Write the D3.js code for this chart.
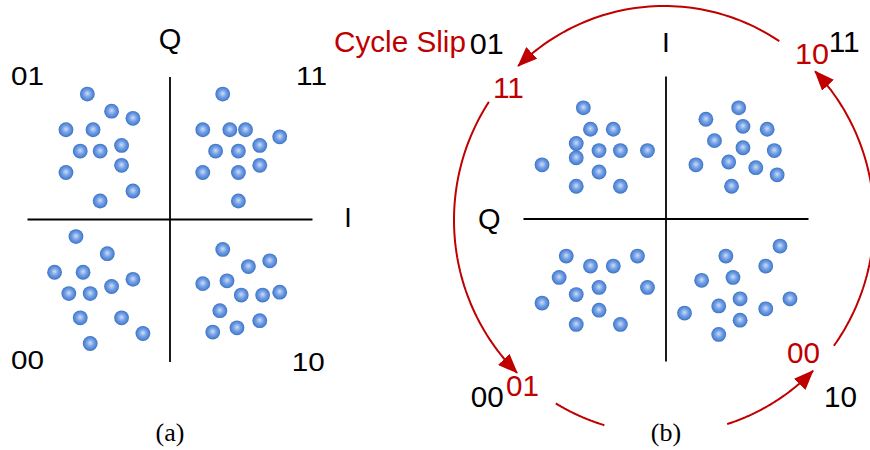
<!DOCTYPE html>
<html><head><meta charset="utf-8">
<script src="https://cdn.jsdelivr.net/npm/d3@7"></script>
<style>body{margin:0;background:#fff}svg{display:block}</style>
</head><body>
<script>
// ---- data (units: axis half-length = 100) ----
const pointsA_01 = [[-58,88],[-41,76],[-26,71],[-73,63],[-54,63],[-34,52],[-63,48],[-49,48],[-34,38],[-73,33],[-26,20],[-49,13]];
const pointsA_11 = [[37,88],[23,63],[42,63],[53,63],[77,58],[63,52],[32,48],[48,48],[63,38],[23,33],[48,33],[48,13]];
const pointsA_00 = [[-66,-12],[-44,-24],[-81,-37],[-61,-37],[-26,-42],[-71,-52],[-56,-52],[-41,-47],[-63,-69],[-34,-69],[-19,-80],[-56,-87]];
const pointsA_10 = [[37,-21],[70,-29],[55,-33],[23,-45],[40,-43],[50,-53],[65,-53],[77,-51],[35,-64],[63,-71],[47,-76],[30,-79]];
const pointsB_TL = [[-58,78],[-53,63],[-37,63],[-63,53],[-47,48],[-32,48],[-13,48],[-63,43],[-87,38],[-47,33],[-63,23],[-32,23]];
const pointsB_TR = [[51,78],[28,70],[54,65],[71,63],[34,55],[54,50],[76,48],[21,38],[44,40],[63,36],[78,31],[46,23]];
const pointsB_BL = [[-70,-26],[-20,-26],[-53,-33],[-37,-33],[-75,-41],[-47,-48],[-13,-48],[-63,-53],[-87,-59],[-47,-64],[-63,-74],[-32,-74]];
const pointsB_BR = [[80,-19],[42,-26],[70,-33],[25,-43],[47,-41],[52,-56],[87,-56],[37,-61],[70,-63],[13,-66],[52,-71],[37,-81]];
const quadLabelsA = ["01","11","00","10"];
const axisLabelsA = ["Q","I"];
const quadLabelsB = ["01","11","00","10"];
const slipLabelsB = ["11","10","01","00"];
const axisLabelsB = ["I","Q"];
const captions = ["(a)","(b)"];
const slipTitle = "Cycle Slip";

const W=870,H=450, RED="#C00000";
const svg=d3.select("body").append("svg").attr("width",W).attr("height",H);
const defs=svg.append("defs");
const g=defs.append("radialGradient").attr("id","ball").attr("cx","50%").attr("cy","50%").attr("r","50%").attr("fx","50%").attr("fy","45%");
[[0,"#cddcf6"],[0.22,"#a6c2ef"],[0.5,"#74a0e4"],[0.82,"#5086d6"],[1,"#3d70c2"]].forEach(([o,c])=>g.append("stop").attr("offset",o).attr("stop-color",c));
defs.append("marker").attr("id","arr").attr("markerUnits","userSpaceOnUse")
  .attr("viewBox","0 0 20 16").attr("markerWidth",20).attr("markerHeight",16)
  .attr("refX",19).attr("refY",8).attr("orient","auto")
  .append("path").attr("d","M0,0 L20,8 L0,16 Z").attr("fill",RED);

function panel(cx,cy,pts){
  const x=d3.scaleLinear().domain([-100,100]).range([cx-142.5,cx+142.5]);
  const y=d3.scaleLinear().domain([-100,100]).range([cy+142.5,cy-142.5]);
  const gg=svg.append("g");
  gg.append("line").attr("x1",x(-100)).attr("x2",x(100)).attr("y1",y(0)).attr("y2",y(0)).attr("stroke","#000").attr("stroke-width",1.8);
  gg.append("line").attr("x1",x(0)).attr("x2",x(0)).attr("y1",y(100)).attr("y2",y(-100)).attr("stroke","#000").attr("stroke-width",1.8);
  gg.selectAll("circle").data(pts).join("circle").attr("cx",d=>x(d[0])).attr("cy",d=>y(d[1])).attr("r",7.4).attr("fill","url(#ball)");
  return {x,y,g:gg};
}
const A=panel(170,219.5,[...pointsA_01,...pointsA_11,...pointsA_00,...pointsA_10]);
const B=panel(666,219,[...pointsB_TL,...pointsB_TR,...pointsB_BL,...pointsB_BR]);

function label(P,t,u,v,opt){
  const e=svg.append("text").attr("x",P.x(u)).attr("y",P.y(v)).text(t)
    .attr("font-family",opt.serif?"Liberation Serif, Times New Roman, serif":"Liberation Sans, Arial, sans-serif")
    .attr("font-size",opt.size||27).attr("fill",opt.fill||"#000").attr("text-anchor",opt.anchor||"middle");
  if(opt.len){e.attr("textLength",opt.len).attr("lengthAdjust","spacingAndGlyphs");}
  return e;
}
// panel (a)
label(A,axisLabelsA[0],0,119.4,{size:29});
label(A,axisLabelsA[1],125,-5.3,{size:27});
label(A,quadLabelsA[0],-100,94.7,{size:26,len:33});
label(A,quadLabelsA[1],99.3,94.7,{size:26,len:31});
label(A,quadLabelsA[2],-100,-105,{size:26,len:33});
label(A,quadLabelsA[3],97,-106,{size:26,len:33});
label(A,captions[0],0,-155.5,{size:26,serif:true});
// panel (b)
label(B,axisLabelsB[0],0,117,{size:28});
label(B,axisLabelsB[1],-124,-7,{size:29});
label(B,quadLabelsB[0],-125.7,116,{size:29,len:34});
label(B,quadLabelsB[1],125,117,{size:29,len:31});
label(B,quadLabelsB[2],-125.4,-131.7,{size:29,len:33});
label(B,quadLabelsB[3],122.5,-131.7,{size:29,len:33});
label(B,slipLabelsB[0],-110.6,85.2,{size:30,len:31,fill:RED});
label(B,slipLabelsB[1],102.5,109,{size:30,len:34,fill:RED});
label(B,slipLabelsB[2],-100.7,-124,{size:30,len:33,fill:RED});
label(B,slipLabelsB[3],96.5,-101.4,{size:30,len:33,fill:RED});
label(B,slipTitle,-233,117,{size:29,fill:RED,anchor:"start",len:132});
label(B,captions[1],0,-155.5,{size:26,serif:true});

// cycle-slip arcs (ellipse around panel b)
const ecx=664, ecy=220, erx=210, ery=214;
const arcs=[[56.7,134,true],[146.5,225.6,true],[239,253.5,false],[287.5,315.2,true],[324,404,true]];
const line=d3.line().curve(d3.curveLinear);
arcs.forEach(([a0,a1,arrow])=>{
  const n=60, p=d3.range(n+1).map(i=>{const a=(a0+(a1-a0)*i/n)*Math.PI/180;return [ecx+erx*Math.cos(a),ecy-ery*Math.sin(a)];});
  const path=svg.append("path").attr("d",line(p)).attr("fill","none").attr("stroke",RED).attr("stroke-width",2);
  if(arrow) path.attr("marker-end","url(#arr)");
});
</script>
</body></html>
